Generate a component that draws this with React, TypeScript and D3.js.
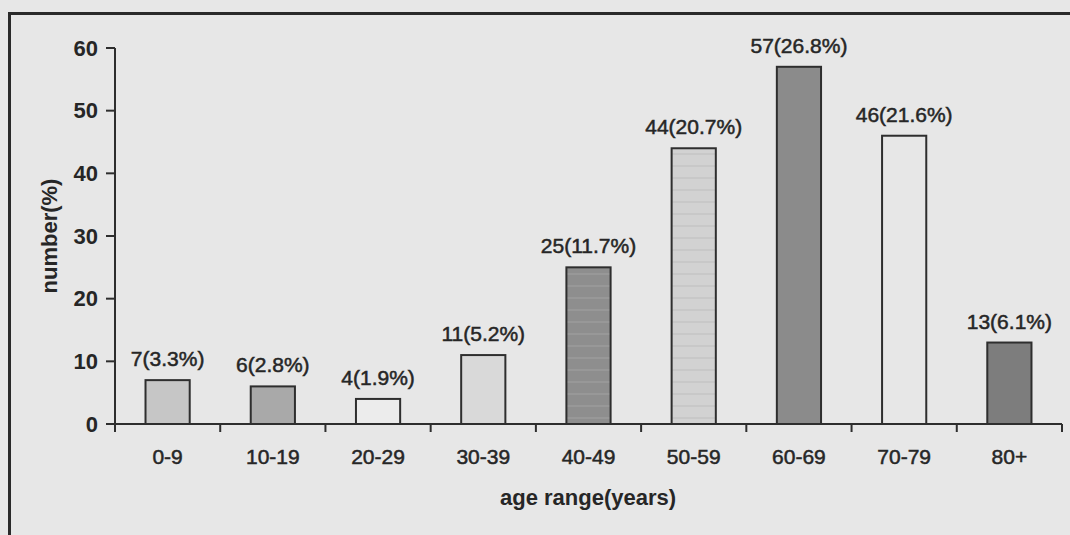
import React from "react";
import * as d3 from "d3";

const categories = ["0-9", "10-19", "20-29", "30-39", "40-49", "50-59", "60-69", "70-79", "80+"];
const counts = [7, 6, 4, 11, 25, 44, 57, 46, 13];
const percents = ["3.3", "2.8", "1.9", "5.2", "11.7", "20.7", "26.8", "21.6", "6.1"];
const fills = ["#c6c6c6", "#a9a9a9", "#ececec", "#d9d9d9", "#8e8e8e", "#d2d2d2", "#8b8b8b", "#e7e7e7", "#7d7d7d"];
const striped = [false, false, false, false, true, true, false, false, false];
const yTicks = [0, 10, 20, 30, 40, 50, 60];

const W = 1070;
const H = 535;
const FONT = "'Liberation Sans', Arial, sans-serif";
const INK = "#262626";

export default function App() {
  const x = d3.scaleBand<string>().domain(categories).range([115, 1062]).paddingInner(0.58).paddingOuter(0.29);
  const y = d3.scaleLinear().domain([0, 60]).range([424, 48]);
  const step = x.step();
  const x0 = 115;
  const boundaries = d3.range(categories.length + 1).map((i) => x0 + i * step);

  return (
    <svg width={W} height={H} style={{ position: "absolute", left: 0, top: 0 }} fontFamily={FONT}>
      <defs>
        <pattern id="stripeDark" width="8" height="12" patternUnits="userSpaceOnUse">
          <rect width="8" height="12" fill="#8e8e8e" />
          <rect y="9" width="8" height="2" fill="#989898" />
        </pattern>
        <pattern id="stripeLight" width="8" height="12" patternUnits="userSpaceOnUse">
          <rect width="8" height="12" fill="#d2d2d2" />
          <rect y="9" width="8" height="2" fill="#c8c8c8" />
        </pattern>
      </defs>
      <rect width={W} height={H} fill="#e7e7e7" />
      {/* frame */}
      <line x1={9.5} y1={13} x2={9.5} y2={H} stroke="#2a2a2a" strokeWidth={3} />
      <line x1={8} y1={13.5} x2={W} y2={13.5} stroke="#2a2a2a" strokeWidth={3} />

      {/* bars */}
      {categories.map((c, i) => (
        <rect
          key={c}
          x={x(c)}
          y={y(counts[i])}
          width={x.bandwidth()}
          height={y(0) - y(counts[i])}
          fill={striped[i] ? (i === 4 ? "url(#stripeDark)" : "url(#stripeLight)") : fills[i]}
          stroke="#2e2e2e"
          strokeWidth={2}
        />
      ))}

      {/* y axis */}
      <line x1={115} y1={y(60)} x2={115} y2={y(0) + 8} stroke="#2e2e2e" strokeWidth={2} />
      {yTicks.map((t) => (
        <g key={t}>
          <line x1={106} x2={115} y1={y(t)} y2={y(t)} stroke="#2e2e2e" strokeWidth={2} />
          <text x={98} y={y(t)} dy="0.35em" textAnchor="end" fontSize={22} fontWeight="bold" fill={INK}>
            {t}
          </text>
        </g>
      ))}

      {/* x axis */}
      <line x1={115} y1={y(0)} x2={1062} y2={y(0)} stroke="#2e2e2e" strokeWidth={2} />
      {boundaries.map((b, i) => (
        <line key={i} x1={b} x2={b} y1={y(0)} y2={y(0) + 8} stroke="#2e2e2e" strokeWidth={2} />
      ))}
      {categories.map((c) => (
        <text
          key={c}
          x={(x(c) ?? 0) + x.bandwidth() / 2}
          y={464}
          textAnchor="middle"
          fontSize={21}
          fill={INK}
          stroke={INK}
          strokeWidth={0.5}
        >
          {c}
        </text>
      ))}

      {/* bar labels */}
      {categories.map((c, i) => (
        <text
          key={c}
          x={(x(c) ?? 0) + x.bandwidth() / 2}
          y={y(counts[i]) - 14}
          textAnchor="middle"
          fontSize={21}
          fill={INK}
          stroke={INK}
          strokeWidth={0.5}
        >
          {`${counts[i]}(${percents[i]}%)`}
        </text>
      ))}

      {/* axis titles */}
      <text x={588} y={505} textAnchor="middle" fontSize={22} fontWeight="bold" fill={INK}>
        age range(years)
      </text>
      <text
        transform={`translate(57, ${(y(0) + y(60)) / 2}) rotate(-90)`}
        textAnchor="middle"
        fontSize={22}
        fontWeight="bold"
        fill={INK}
      >
        number(%)
      </text>
    </svg>
  );
}
